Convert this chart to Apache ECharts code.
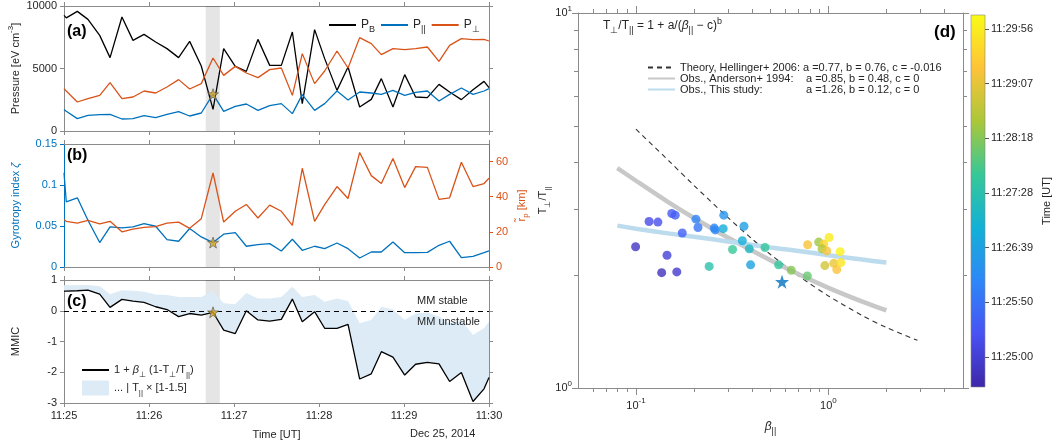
<!DOCTYPE html>
<html><head><meta charset="utf-8">
<script src="https://cdn.jsdelivr.net/npm/echarts@6.0.0/dist/echarts.min.js"></script>
<style>html,body{margin:0;padding:0;background:#fff;}#chart{width:1060px;height:446px;}</style>
</head><body><div id="chart"></div>
<script>
// ---------------- data ----------------
const timeTickLabels = ['11:25','11:26','11:27','11:28','11:29','11:30'];
const timeTickValues = [0, 60, 120, 180, 240, 300];
// seconds after 11:25:00
const timeSec = [0,1.6,9.4,16.9,25.2,32.5,40.9,48.7,56.5,64.7,72.7,80.9,88.7,96.9,105.2,112.7,120.9,128.7,136.9,145.2,153.4,161.2,168.2,176.9,184.0,192.7,200.5,208.7,216.9,224.0,232.2,240.5,248.2,256.5,264.7,272.2,280.5,288.7,296.5,300];
const pressureB = [9250,9050,9570,8930,7650,5870,9120,7250,7730,7120,6590,5870,7170,5200,1730,6590,5170,4770,7330,5250,5250,7920,2190,8110,5790,3250,5120,1920,2530,4190,1920,4510,2720,2670,3730,3120,2510,3300,3970,3470];
const pressurePar = [1710,1580,990,1250,1310,1330,960,990,1230,1070,1330,1550,1200,1440,2950,1570,1970,2160,1650,2030,2190,1390,2910,1650,2190,3200,2480,3120,3040,2930,3250,2850,3090,3200,2400,2930,3440,2930,3200,3390];
const pressurePerp = [3390,3200,2320,2590,2850,3870,2590,2720,3200,3040,3520,4110,3360,3790,5840,4450,5170,4640,4270,4910,5040,2850,6190,3790,4800,6400,5040,7470,6990,6110,6590,6510,6590,6720,5570,6850,7390,7310,7330,7200];
const gyrotropy = [0.115,0.0795,0.0844,0.0571,0.0298,0.0489,0.0477,0.0489,0.053,0.0497,0.0334,0.0314,0.0469,0.0367,0.0298,0.040,0.042,0.0253,0.0273,0.0285,0.0196,0.0338,0.0204,0.0253,0.0224,0.0293,0.0224,0.011,0.0183,0.0183,0.0306,0.0175,0.0175,0.0179,0.0265,0.0314,0.0114,0.013,0.0175,0.0196];
const gyroRadius = [27,26,25,26.5,24.5,26,20,21.5,22.5,23,25,25.5,22,27.5,53.5,25.6,31.7,35.6,27.9,35.2,31.7,23.7,56.2,26,35.5,45.8,39,65.2,52,47.5,61.7,45.2,57.1,56.7,38.5,39.4,59.6,45.8,47.5,50.6];
const mmic = [0.64,0.64,0.65,0.67,0.54,0.11,0.37,0.31,0.27,0.13,0.04,-0.19,-0.09,-0.14,-0.05,-0.63,-0.74,0.0,-0.3,-0.34,-0.28,0.38,-0.36,-0.03,-0.57,-0.57,-0.44,-2.22,-2.05,-1.33,-1.51,-2.09,-1.74,-1.68,-1.73,-2.3,-2.01,-2.95,-2.54,-2.17];
const mmicUpper = [0.83,0.83,0.83,0.84,0.8,0.54,0.67,0.65,0.62,0.53,0.51,0.45,0.45,0.45,0.64,0.24,0.21,0.58,0.4,0.4,0.45,0.78,0.45,0.51,0.29,0.4,0.32,-0.41,-0.3,0.13,0.04,-0.3,-0.09,-0.06,-0.19,-0.41,-0.3,-0.79,-0.57,-0.36];
const eventStart = 100, eventEnd = 110;
const eventIndex = 14;
const pressureTicks = [0, 5000, 10000];
const gyroTicks = [0, 0.05, 0.1, 0.15];
const radiusTicks = [0, 20, 40, 60];
const mmicTicks = [-3, -2, -1, 0, 1];

// panel (d)
const scatterBeta  = [0.0996,0.117,0.130,0.1535,0.160,0.145,0.136,0.163,0.174,0.205,0.210,0.255,0.258,0.286,0.284,0.364,0.357,0.3175,0.388,0.240,0.394,0.468,0.551,0.641,0.777,0.78,0.890,0.946,0.926,1.008,0.98,1.15,0.958,1.066,1.105,1.16];
const scatterRatio = [2.38,2.78,2.77,2.92,2.89,2.26,2.03,2.04,2.59,2.82,2.68,2.67,2.64,2.89,2.66,2.70,2.47,2.34,2.35,2.11,2.13,2.37,2.13,2.06,1.99,2.41,2.45,2.42,2.35,2.52,2.32,2.31,2.12,2.15,2.07,2.16];
const scatterTime  = [-10,13,15,27,30,2,-15,-5,33,67,54,67,72,84,114,97,114,165,131,148,101,161,158,198,185,257,208,275,215,295,255,300,235,250,260,290];
const eventBeta = 0.574, eventRatio = 1.92;
const theoryBeta = [0.1,0.15,0.2,0.3,0.4,0.5,0.7,1,1.5,2,2.9];
const theoryRatio = [4.9,4.01,3.47,2.85,2.50,2.27,1.99,1.76,1.56,1.45,1.34];
const andersonBeta = [0.08,0.1,0.15,0.2,0.3,0.5,0.7,1,1.5,2];
const andersonRatio = [3.86,3.57,3.11,2.84,2.52,2.19,2.01,1.85,1.70,1.61];
const studyBeta = [0.08,0.1,0.15,0.2,0.3,0.5,0.7,1,1.5,2];
const studyRatio = [2.71,2.66,2.58,2.53,2.46,2.37,2.32,2.26,2.20,2.16];
const dXMin = 0.05, dXMax = 5, dYMin = 1, dYMax = 10;
const dXMajor = [0.1, 1];
const dXMinor = [0.06,0.07,0.08,0.09,0.2,0.3,0.4,0.5,0.6,0.7,0.8,0.9,2,3,4];
const dYMajor = [1, 10];
const dYMinor = [2,3,4,5,6,7,8,9];
const cbMin = -27, cbMax = 309;
const cbTickValues = [0,50,99,148,198,247,296];
const cbTickLabels = ['11:25:00','11:25:50','11:26:39','11:27:28','11:28:18','11:29:07','11:29:56'];

// ---------------- styles ----------------
const F = '"Liberation Sans", Arial, Helvetica, sans-serif';
const TXT = '#262626', AX = '#8a8a8a';
const C_BLUE = '#0072bd', C_ORANGE = '#d95319', C_BAND = '#dcebf6';
const parula = ['#3e26a8','#4852f4','#2e87f7','#12b1d6','#37c897','#abc739','#fec338','#f9fb15'];
function R(size) {
  return {
    n: {fontSize:size, fontFamily:F, lineHeight:size+6},
    g: {fontSize:size, fontFamily:F, fontStyle:'italic', lineHeight:size+6},
    sub: {fontSize:size-3, fontFamily:F, height:size-3, lineHeight:size-3, verticalAlign:'bottom'},
    sup: {fontSize:size-3, fontFamily:F, height:size-3, lineHeight:size-3, verticalAlign:'top'}
  };
}
const pair = (xs, ys) => xs.map((x, i) => [x, ys[i]]);
const L10 = Math.log10;
const starPath = 'path://M0,-10 L2.35,-3.24 L9.51,-3.09 L3.8,1.24 L5.88,8.09 L0,4 L-5.88,8.09 L-3.8,1.24 L-9.51,-3.09 L-2.35,-3.24 Z';

function axLine(color){ return {show:true, onZero:false, lineStyle:{color:color||AX, width:1}}; }
function axTick(len, color, custom){ const t = {show:true, inside:false, length:len, lineStyle:{color:color||AX}}; if (custom) t.customValues = custom; return t; }

function timeAxis(grid, pos, labels) {
  return {gridIndex:grid, type:'value', position:pos, min:0, max:300, interval:60,
    axisLine:axLine(), axisTick:axTick(4), splitLine:{show:false},
    axisLabel:{show:labels, color:TXT, fontSize:11, fontFamily:F, margin:7,
      formatter:v => timeTickLabels[timeTickValues.indexOf(Math.round(v))]}};
}
function valAxis(grid, pos, min, max, ticks, opts) {
  opts = opts || {};
  const color = opts.color || TXT;
  return {gridIndex:grid, type:'value', position:pos, min:min, max:max,
    axisLine:axLine(opts.lineColor), axisTick:axTick(4, opts.lineColor, ticks), splitLine:{show:false},
    axisLabel:{show:!!opts.labels, customValues:ticks, color:color, fontSize:11, fontFamily:F, margin:7,
      formatter:v => String(Math.round(v*1000)/1000)},
    name:opts.name||'', nameLocation:'middle', nameGap:opts.nameGap||40, nameRotate:90,
    nameTextStyle:{color:color, fontSize:11, fontFamily:F, rich:R(11)}};
}
function logHelper(grid, isX, pos, majorVals, minorVals, min, max, labels, extra) {
  const major = Object.assign({gridIndex:grid, type:'value', position:pos, min:L10(min), max:L10(max),
    axisLine:axLine(), axisTick:axTick(isX ? 7 : 6, null, majorVals.map(L10)), splitLine:{show:false},
    axisLabel:{show:labels, customValues:majorVals.map(L10), color:TXT, fontSize:11, fontFamily:F, margin:isX?9:6,
      formatter:v => '{n|10}{sup|' + Math.round(v) + '}', rich:R(11)}}, extra||{});
  const minor = {gridIndex:grid, type:'value', position:pos, min:L10(min), max:L10(max),
    axisLine:{show:true, onZero:false, lineStyle:{color:AX, opacity:0}},
    axisTick:axTick(4, null, minorVals.map(L10)), splitLine:{show:false},
    axisLabel:{show:true, customValues:minorVals.map(L10), formatter:() => '', color:'rgba(0,0,0,0)'}};
  return [major, minor];
}

const xAxes = [
  timeAxis(0,'bottom',false), timeAxis(0,'top',false),
  timeAxis(1,'bottom',false), timeAxis(1,'top',false),
  Object.assign(timeAxis(2,'bottom',true), {name:'Time [UT]', nameLocation:'middle', nameGap:26, nameTextStyle:{color:TXT, fontSize:11, fontFamily:F}}),
  timeAxis(2,'top',false),
  {gridIndex:3, type:'log', logBase:10, min:dXMin, max:dXMax, show:false},
  ...logHelper(3, true, 'bottom', dXMajor, dXMinor, dXMin, dXMax, true,
      {name:'{g|β}{sub|||}', nameLocation:'middle', nameGap:30, nameTextStyle:{color:TXT, rich:R(12)}}),
  ...logHelper(3, true, 'top', dXMajor, dXMinor, dXMin, dXMax, false),
  {gridIndex:4, type:'value', min:0, max:1, show:false}
];
const yAxes = [
  valAxis(0,'left',0,10000,pressureTicks,{labels:true, name:'{n|Pressure [eV cm}{sup|-3}{n|]}', nameGap:40}),
  valAxis(0,'right',0,10000,pressureTicks,{}),
  valAxis(1,'left',0,0.15,gyroTicks,{labels:true, color:C_BLUE, lineColor:C_BLUE, name:'{n|Gyrotropy index }{g|ζ}', nameGap:40}),
  valAxis(1,'right',0,70,radiusTicks,{labels:true, color:C_ORANGE, lineColor:C_ORANGE, name:'{n|r̃}{sub|p}{n| [km]}', nameGap:24}),
  valAxis(2,'left',-3,1,mmicTicks,{labels:true, name:'{n|MMIC}', nameGap:40}),
  valAxis(2,'right',-3,1,mmicTicks,{}),
  {gridIndex:3, type:'log', logBase:10, min:dYMin, max:dYMax, show:false},
  ...logHelper(3, false, 'left', dYMajor, dYMinor, dYMin, dYMax, true,
      {name:'{n|T}{sub|⊥}{n|/T}{sub|||}', nameLocation:'middle', nameGap:22, nameRotate:90, nameTextStyle:{color:TXT, rich:R(11)}}),
  ...logHelper(3, false, 'right', dYMajor, dYMinor, dYMin, dYMax, false),
  {gridIndex:4, type:'value', position:'right', min:cbMin, max:cbMax,
    axisLine:{show:false, onZero:false}, axisTick:axTick(4, '#555', cbTickValues), splitLine:{show:false},
    axisLabel:{customValues:cbTickValues, color:TXT, fontSize:11, fontFamily:F, margin:6,
      formatter:v => cbTickLabels[cbTickValues.findIndex(t => Math.abs(t - v) < 0.5)]},
    name:'Time [UT]', nameLocation:'middle', nameGap:56, nameRotate:90, nameTextStyle:{color:TXT, fontSize:11, fontFamily:F}}
];

const eventArea = {silent:true, itemStyle:{color:'rgba(0,0,0,0.1)'}, data:[[{xAxis:eventStart},{xAxis:eventEnd}]]};
function line(name, xi, yi, data, color, extra) {
  return Object.assign({name:name, type:'line', xAxisIndex:xi, yAxisIndex:yi, data:data, symbol:'none',
    lineStyle:{color:color, width:1.3}, itemStyle:{color:color}, silent:true, animation:false, z:3}, extra||{});
}
function star(xi, yi, pt) {
  return {type:'scatter', xAxisIndex:xi, yAxisIndex:yi, data:[pt], symbol:starPath, symbolSize:11,
    itemStyle:{color:'#d6a21e', borderColor:'#555', borderWidth:0.8}, silent:true, animation:false, z:6};
}
const cbStops = parula.map((c, i) => ({offset:i/(parula.length-1), color:c}));

const series = [
  line('PB', 0, 0, pair(timeSec, pressureB), '#000', {markArea:eventArea}),
  line('Ppar', 0, 0, pair(timeSec, pressurePar), C_BLUE),
  line('Pperp', 0, 0, pair(timeSec, pressurePerp), C_ORANGE),
  star(0, 0, [timeSec[eventIndex], pressurePar[eventIndex]]),
  line('zeta', 2, 2, pair(timeSec, gyrotropy), C_BLUE, {markArea:eventArea}),
  line('rp', 2, 3, pair(timeSec, gyroRadius), C_ORANGE),
  star(2, 2, [timeSec[eventIndex], gyrotropy[eventIndex]]),
  {name:'band', type:'custom', xAxisIndex:4, yAxisIndex:4, data:[[0, 0]], silent:true, animation:false, z:1,
    itemStyle:{color:C_BAND},
    renderItem:(params, api) => {
      const up = timeSec.map((t, i) => api.coord([t, mmicUpper[i]]));
      const lo = timeSec.map((t, i) => api.coord([t, mmic[i]])).reverse();
      return {type:'polygon', shape:{points:up.concat(lo)}, style:{fill:C_BAND}};
    }},
  line('MMIC', 4, 4, pair(timeSec, mmic), '#000', {z:5,
    markLine:{silent:true, symbol:'none', label:{show:false}, lineStyle:{type:[5,4], color:'#000', width:1.2}, data:[{yAxis:0}]},
    markArea:{silent:true, itemStyle:{color:'rgba(0,0,0,0.1)'}, data:[[{xAxis:eventStart},{xAxis:eventEnd}]]}}),
  star(4, 4, [timeSec[eventIndex], mmic[eventIndex]]),
  line('theory', 6, 6, pair(theoryBeta, theoryRatio), '#333', {smooth:0.3, lineStyle:{color:'#333', width:1.1, type:[5,4]}}),
  line('anderson', 6, 6, pair(andersonBeta, andersonRatio), '#c8c8c8', {smooth:0.3, lineStyle:{color:'#c8c8c8', width:4.5}}),
  line('study', 6, 6, pair(studyBeta, studyRatio), '#bcdcee', {smooth:0.3, lineStyle:{color:'#bcdcee', width:4.5}}),
  {type:'scatter', xAxisIndex:6, yAxisIndex:6, data:scatterBeta.map((b, i) => [b, scatterRatio[i], scatterTime[i]]),
    symbol:'circle', symbolSize:9, itemStyle:{opacity:0.8}, silent:true, animation:false, z:5},
  {type:'scatter', xAxisIndex:6, yAxisIndex:6, data:[[eventBeta, eventRatio]], symbol:starPath, symbolSize:14,
    itemStyle:{color:C_BLUE}, silent:true, animation:false, z:6},
  {type:'custom', xAxisIndex:11, yAxisIndex:11, data:[[0, cbMin]], silent:true, animation:false,
    renderItem:(params, api) => {
      const p0 = api.coord([0, cbMin]), p1 = api.coord([1, cbMax]);
      return {type:'rect', shape:{x:p0[0], y:p1[1], width:p1[0]-p0[0], height:p0[1]-p1[1]},
        style:{fill:new echarts.graphic.LinearGradient(0, 1, 0, 0, cbStops), stroke:'#888', lineWidth:0.6}};
    }}
];

const legendText = {
  PB:'{n|P}{sub|B}', Ppar:'{n|P}{sub|||}', Pperp:'{n|P}{sub|⊥}',
  MMIC:'{n|1 + }{g|β}{sub|⊥}{n| (1-T}{sub|⊥}{n|/T}{sub|||}{n|)}',
  band:'{n|... | T}{sub|||}{n| × [1-1.5]}',
  theory:'{m|Theory, Hellinger+ 2006: a =0.77, b = 0.76, c = -0.016}',
  anderson:'{w|Obs., Anderson+ 1994:}{m|a =0.85, b = 0.48, c = 0}',
  study:'{w|Obs., This study:}{m|a =1.26, b = 0.12, c = 0}'
};
const fmt = name => legendText[name];
const legendRichD = {m:{fontSize:11, fontFamily:F, lineHeight:10}, w:{fontSize:11, fontFamily:F, lineHeight:10, width:126}};
const hiddenSymbol = {opacity:0};

const option = {
  animation:false,
  backgroundColor:'#fff',
  textStyle:{fontFamily:F},
  grid:[
    {left:64, top:6, width:425, height:125},
    {left:64, top:144, width:425, height:123},
    {left:64, top:280, width:425, height:123},
    {left:578, top:13, width:385, height:375},
    {left:971, top:15, width:14, height:372}
  ],
  xAxis:xAxes,
  yAxis:yAxes,
  visualMap:[{type:'continuous', show:false, seriesIndex:13, dimension:2, min:cbMin, max:cbMax, inRange:{color:parula}}],
  legend:[
    {data:['PB','Ppar','Pperp'], left:323, top:14, itemWidth:27, itemHeight:12, itemGap:5, selectedMode:false,
      itemStyle:hiddenSymbol, formatter:fmt, textStyle:{color:TXT, fontSize:12, rich:R(12)}},
    {data:[{name:'MMIC', itemStyle:{opacity:0}}, {name:'band', icon:'rect', itemStyle:{color:C_BAND, opacity:1}}],
      orient:'vertical', left:76, top:359, itemWidth:27, itemHeight:15, itemGap:2,
      selectedMode:false, formatter:fmt, textStyle:{color:TXT, fontSize:11, rich:R(11)}},
    {data:['theory','anderson','study'], orient:'vertical', left:642, top:57, itemWidth:27, itemHeight:6, itemGap:0,
      selectedMode:false, itemStyle:hiddenSymbol, formatter:fmt, textStyle:{color:TXT, fontSize:11, lineHeight:10, rich:legendRichD}}
  ],
  graphic:[
    {type:'text', z:100, left:67, top:24, style:{text:'(a)', font:'bold 16px ' + F, fill:'#000'}},
    {type:'text', z:100, left:67, top:148, style:{text:'(b)', font:'bold 16px ' + F, fill:'#000'}},
    {type:'text', z:100, left:67, top:294, style:{text:'(c)', font:'bold 16px ' + F, fill:'#000'}},
    {type:'text', z:100, left:934, top:24, style:{text:'(d)', font:'bold 17px ' + F, fill:'#000'}},
    {type:'text', z:100, left:417, top:295, style:{text:'MM stable', font:'11px ' + F, fill:TXT}},
    {type:'text', z:100, left:417, top:316, style:{text:'MM unstable', font:'11px ' + F, fill:TXT}},
    {type:'text', z:100, left:410, top:428, style:{text:'Dec 25, 2014', font:'11px ' + F, fill:TXT}},
    {type:'text', z:100, left:603, top:17, style:{text:'{n|T}{sub|⊥}{n|/T}{sub|||}{n| = 1 + a/(}{g|β}{sub|||}{n| − c)}{sup|b}', rich:R(12), fill:TXT, font:'12px ' + F}}
  ],
  series:series
};
const chart = echarts.init(document.getElementById('chart'), null, {renderer:'canvas'});
chart.setOption(option);
</script>
</body></html>
